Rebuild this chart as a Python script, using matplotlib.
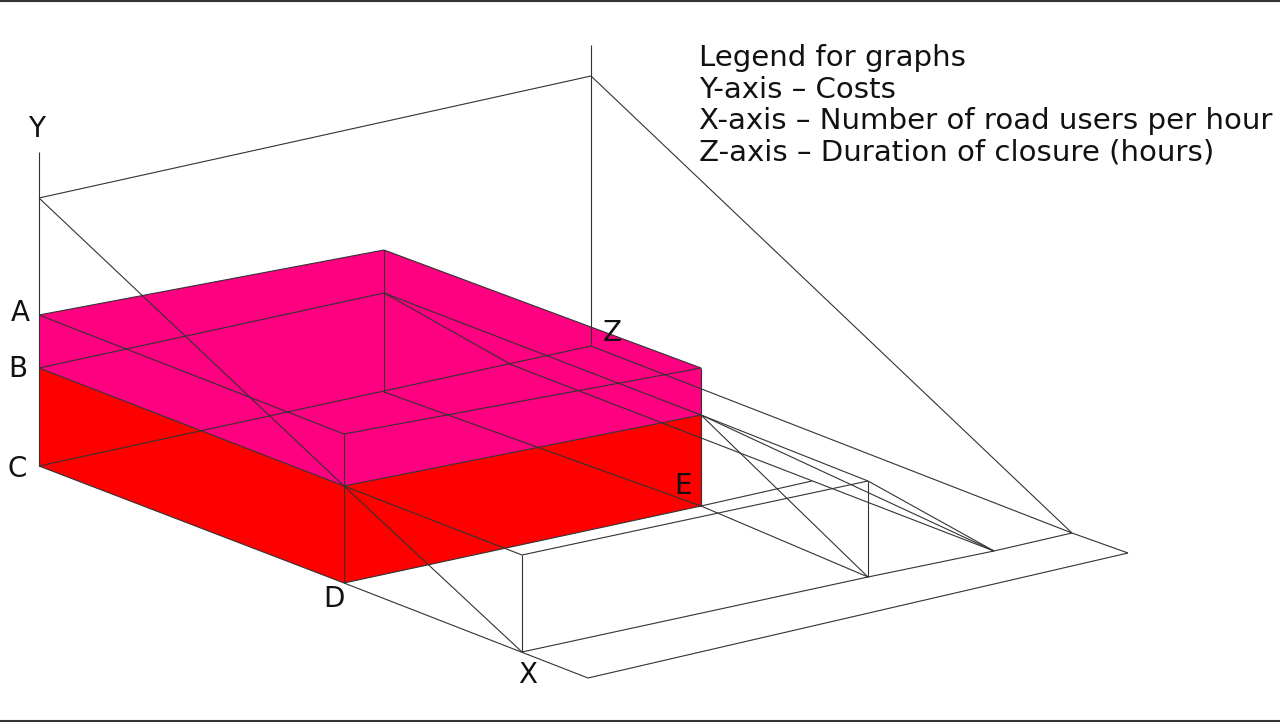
import matplotlib
matplotlib.use('Agg')
import matplotlib.pyplot as plt

# corner points, in image pixels
point_names = ['y_top', 'y_back', 'a', 'b', 'c', 'd', 'pink_back', 'inner_back', 'floor_back',
               'pink_right', 'mid_right', 'e', 'front_top', 'front_mid', 'z_top', 'z_back', 'z',
               'kink', 'x', 'box_front', 'box_back', 'box_floor', 'floor_tip', 'end_x', 'end_z',
               'corner_x', 'corner_z', 'tick_e']
point_x = [39, 39, 39, 39, 39, 344, 384, 384, 384,
           701, 701, 701, 344, 344, 591, 591, 591,
           512, 522, 522, 868, 868, 994, 1072, 1072,
           588, 1128, 812]
point_y = [152, 198, 315, 368, 466, 583, 250, 293, 392,
           368, 415, 506, 434, 486, 45, 76, 346,
           365, 652, 555, 481, 577, 551, 533, 533,
           678, 553, 481]
pts = dict(zip(point_names, zip(point_x, point_y)))

pink_face = ['a', 'pink_back', 'pink_right', 'mid_right', 'front_mid', 'b']
red_face = ['b', 'front_mid', 'mid_right', 'e', 'd', 'c']

edges = [('y_top', 'c'), ('y_back', 'z_back'), ('z_top', 'z'), ('z_back', 'end_z'),
         ('y_back', 'front_mid'), ('front_mid', 'x'), ('a', 'pink_back'),
         ('pink_back', 'pink_right'), ('pink_right', 'e'), ('a', 'front_top'),
         ('b', 'inner_back'), ('b', 'front_mid'), ('front_mid', 'mid_right'),
         ('front_top', 'pink_right'), ('front_top', 'd'), ('pink_back', 'floor_back'),
         ('c', 'z'), ('c', 'd'), ('d', 'e'), ('floor_back', 'e'), ('inner_back', 'mid_right'),
         ('inner_back', 'kink'), ('kink', 'floor_tip'), ('z', 'end_z'),
         ('front_mid', 'box_front'), ('box_front', 'box_back'), ('box_front', 'x'),
         ('box_back', 'box_floor'), ('x', 'box_floor'), ('box_floor', 'floor_tip'),
         ('floor_tip', 'end_z'), ('d', 'corner_x'), ('corner_x', 'corner_z'),
         ('corner_z', 'end_x'), ('e', 'box_floor'), ('e', 'tick_e'),
         ('mid_right', 'box_floor'), ('mid_right', 'box_back'), ('box_back', 'floor_tip'),
         ('mid_right', 'floor_tip')]

axis_labels = ['A', 'B', 'C', 'D', 'E', 'X', 'Y', 'Z']
label_x = [20, 18, 17, 334, 683, 528, 37, 612]
label_y = [321, 377, 477, 607, 494, 683, 137, 341]

legend_lines = ['Legend for graphs', 'Y-axis \u2013 Costs',
                'X-axis \u2013 Number of road users per hour',
                'Z-axis \u2013 Duration of closure (hours)']
legend_y = [66, 98, 129, 160]

# the reference text is a stretched Arial, DejaVu is the closest in width against height
plt.rcParams['font.family'] = ['DejaVu Sans']

fig = plt.figure(figsize=(12.8, 7.22), dpi=100)
ax = fig.add_axes([0, 0, 1, 1])
ax.set_xlim(0, 1280)
ax.set_ylim(722, 0)
ax.axis('off')

ax.fill([pts[n][0] for n in pink_face], [pts[n][1] for n in pink_face], color='#ff0080', lw=0)
ax.fill([pts[n][0] for n in red_face], [pts[n][1] for n in red_face], color='#ff0000', lw=0)

for start, end in edges:
    ax.plot([pts[start][0], pts[end][0]], [pts[start][1], pts[end][1]],
            color='#333333', lw=0.8, solid_capstyle='butt')

# dark rules along the top and bottom of the picture
ax.axhline(0.5, color='#333333', lw=1.5)
ax.axhline(720.5, color='#333333', lw=1.5)

for name, x, y in zip(axis_labels, label_x, label_y):
    ax.text(x, y, name, fontsize=20, color='#111111', ha='center', va='baseline')

for line, y in zip(legend_lines, legend_y):
    ax.text(699, y, line, fontsize=21.1, color='#111111', ha='left', va='baseline')

fig.savefig('out.png', dpi=100)
